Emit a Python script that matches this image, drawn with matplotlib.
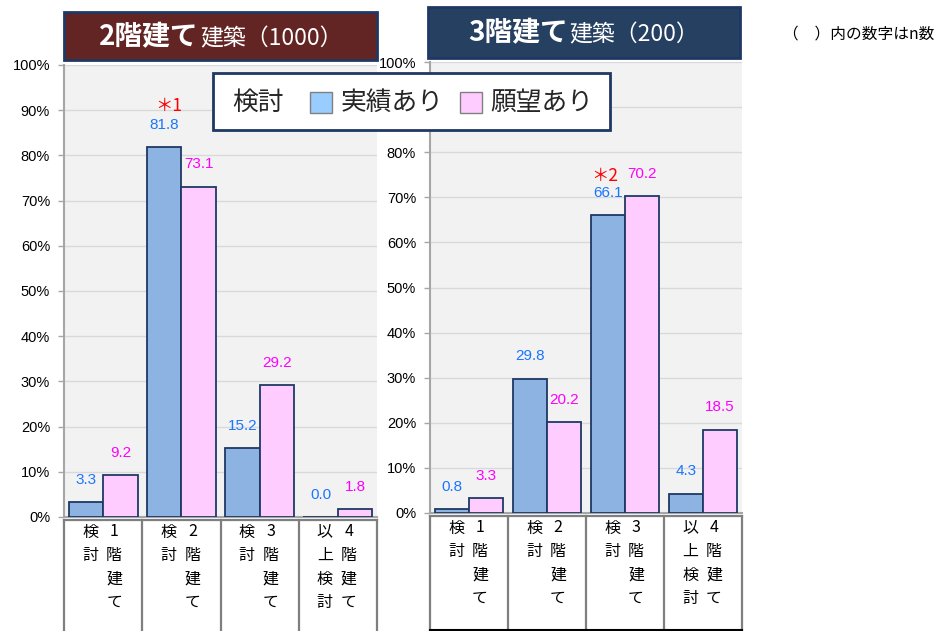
import numpy as np
import matplotlib
matplotlib.use("Agg")
import matplotlib.pyplot as plt
from matplotlib.patches import Rectangle
from matplotlib.offsetbox import TextArea, HPacker, AnchoredOffsetbox

plt.rcParams['font.family'] = ['Liberation Sans', 'Noto Sans CJK JP', 'DejaVu Sans']

# ---------------- data ----------------
cat_floor = ["1階建て", "2階建て", "3階建て", "4階建て"]
cat_suffix = ["検討", "検討", "検討", "以上検討"]
two_actual = [3.3, 81.8, 15.2, 0.0]
two_wish = [9.2, 73.1, 29.2, 1.8]
three_actual = [0.8, 29.8, 66.1, 4.3]
three_wish = [3.3, 20.2, 70.2, 18.5]
title_two = ("2階建て", "建築（1000）")
title_three = ("3階建て", "建築（200）")
legend_title = "検討"
series_names = ["実績あり", "願望あり"]
note_text = "（　）内の数字はn数"
yticks = list(range(0, 101, 10))

# ---------------- style ----------------
W, H = 947, 631
BLUE = '#8db3e2'
PINK = '#ffccff'
EDGE = '#1f3864'
LBL_BLUE = '#1a75ff'
LBL_PINK = '#ff00ff'
JP = ['Noto Sans CJK JP', 'DejaVu Sans']

fig = plt.figure(figsize=(W / 100, H / 100), dpi=100)
fig.patch.set_facecolor('white')


def fx(x):
    return x / W


def fy(y):
    return 1 - y / H


def panel(l, r, t, b, actual, wish, mark_idx, mark_text, mark_off, bottom_line, hidden_ticks=()):
    ax = fig.add_axes([fx(l), fy(b), (r - l) / W, (b - t) / H])
    ax.set_facecolor('#f2f2f2')
    x = np.arange(len(actual))
    w = 0.44
    ax.bar(x - w / 2, actual, w, color=BLUE, edgecolor=EDGE, linewidth=1.3, zorder=3)
    ax.bar(x + w / 2, wish, w, color=PINK, edgecolor=EDGE, linewidth=1.3, zorder=3)
    ax.set_xlim(-0.5, 3.5)
    ax.set_ylim(0, 100)
    ax.set_yticks(yticks)
    # labels hidden behind the legend box in the reference are left blank
    ax.set_yticklabels(["" if v in hidden_ticks else f"{v}%" for v in yticks])
    ax.yaxis.grid(True, color='#d9d9d9', linewidth=1)
    ax.set_axisbelow(True)
    for s in ['top', 'right']:
        ax.spines[s].set_visible(False)
    for s in ['left', 'bottom']:
        ax.spines[s].set_color('#a6a6a6')
        ax.spines[s].set_linewidth(1.5)
    ax.tick_params(axis='y', length=4, width=1, color='#a6a6a6', pad=6,
                   labelsize=10.5, labelcolor='black')
    ax.tick_params(axis='x', length=0, labelbottom=False)

    for xi, v in zip(x, actual):
        ax.annotate(f"{v:.1f}", (xi - w / 2, v), xytext=(0, 16), textcoords='offset points',
                    ha='center', va='center', color=LBL_BLUE, fontsize=11, zorder=5)
    for xi, v in zip(x, wish):
        ax.annotate(f"{v:.1f}", (xi + w / 2, v), xytext=(0, 16), textcoords='offset points',
                    ha='center', va='center', color=LBL_PINK, fontsize=11, zorder=5)
    ax.annotate(mark_text, (x[mark_idx] - w / 2, actual[mark_idx]),
                xytext=(mark_off[0], 16 + mark_off[1]), textcoords='offset points',
                ha='center', va='center', color='#ff0000', fontsize=12.5, family=JP)

    # category table
    h = b - t
    trans = ax.get_xaxis_transform()
    ybot = -(H - b) / h
    for xb in np.arange(-0.5, 4.0, 1.0):
        ax.plot([xb, xb], [-3 / h, ybot], transform=trans, color='#7f7f7f',
                lw=1.6, clip_on=False)
    ax.plot([-0.5, 3.5], [-3 / h, -3 / h], transform=trans, color='#7f7f7f',
            lw=1.6, clip_on=False)
    if bottom_line:
        ax.plot([-0.5, 3.5], [-(630 - b) / h] * 2, transform=trans, color='black',
                lw=1.5, clip_on=False)
    for i in range(len(cat_floor)):
        for r_, ch in enumerate(cat_floor[i]):
            ax.text(i + 11 / 78, -(15 + 23.5 * r_) / h, ch, transform=trans,
                    ha='center', va='center', fontsize=11.5, family=JP)
        for r_, ch in enumerate(cat_suffix[i]):
            ax.text(i - 13 / 78, -(15 + 23.5 * r_) / h, ch, transform=trans,
                    ha='center', va='center', fontsize=11.5, family=JP)
    return ax


panel(64, 377, 65, 517, two_actual, two_wish, 1, "＊1", (3, 14), False)
panel(430, 742, 62, 513, three_actual, three_wish, 2, "＊2", (-2, 12), True,
      hidden_ticks=(90,))


def title_box(l, r, t, b, color, texts):
    fig.add_artist(Rectangle((fx(l), fy(b)), (r - l) / W, (b - t) / H,
                             transform=fig.transFigure, facecolor=color,
                             edgecolor='#1f3864', linewidth=2, zorder=4))
    big = TextArea(texts[0], textprops=dict(size=20, weight='bold', color='white', family=JP))
    small = TextArea(texts[1], textprops=dict(size=16.5, color='white', family=JP))
    pack = HPacker(children=[big, small], align='baseline', pad=0, sep=1)
    aob = AnchoredOffsetbox(loc='center', child=pack, pad=0, borderpad=0, frameon=False,
                            bbox_to_anchor=(fx((l + r) / 2), fy((t + b) / 2 + 1)),
                            bbox_transform=fig.transFigure)
    aob.set_zorder(5)
    fig.add_artist(aob)


title_box(64, 377, 12, 60, '#632523', title_two)
title_box(428, 740, 7, 58, '#254061', title_three)

fig.text(fx(783), fy(34), note_text, ha='left', va='center', fontsize=11.3,
         family=JP, color='black')

# legend
fig.add_artist(Rectangle((fx(213), fy(130)), (610 - 213) / W, (130 - 73) / H,
                         transform=fig.transFigure, facecolor='white',
                         edgecolor='#1f3864', linewidth=2, zorder=6))
ly = fy(103)
fig.text(fx(232), ly, legend_title, ha='left', va='center', fontsize=18.5,
         family=JP, color='#262626', zorder=7)
for sx, tx, col, name in [(310, 341, '#99ccff', series_names[0]),
                          (460, 490, PINK, series_names[1])]:
    fig.add_artist(Rectangle((fx(sx), fy(113)), 22 / W, 21 / H,
                             transform=fig.transFigure, facecolor=col,
                             edgecolor='#808080', linewidth=1, zorder=7))
    fig.text(fx(tx), ly, name, ha='left', va='center', fontsize=18.5,
             family=JP, color='#262626', zorder=7)

fig.savefig('out.png', dpi=100)
